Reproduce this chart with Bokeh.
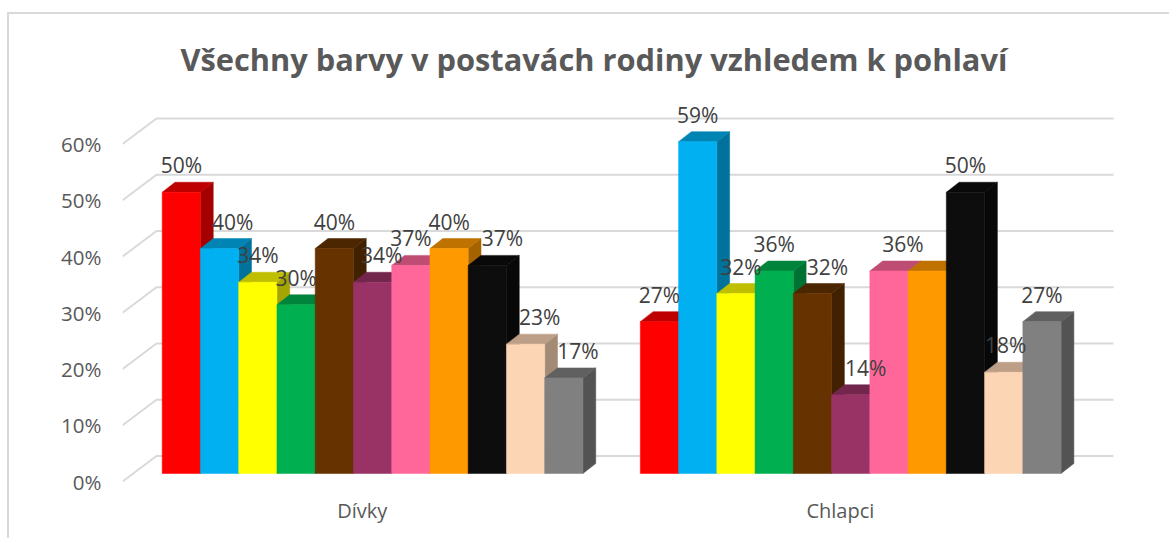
from bokeh.plotting import figure
from bokeh.models import ColumnDataSource, FixedTicker
from bokeh.embed import file_html
from bokeh.resources import INLINE
from bokeh.core.properties import value

# ---- data
groups = ["Dívky", "Chlapci"]
girls = [50, 40, 34, 30, 40, 34, 37, 40, 37, 23, 17]
boys = [27, 59, 32, 36, 32, 14, 36, 36, 50, 18, 27]
y_ticks = [0, 10, 20, 30, 40, 50, 60]
title_text = "Všechny barvy v postavách rodiny vzhledem k pohlaví"

# ---- styles
bar_colors = ["#ff0000", "#00b0f0", "#ffff00", "#00b050", "#663300", "#993366",
              "#ff6699", "#ff9900", "#0d0d0d", "#fcd5b5", "#808080"]
# sideways nudges of the data labels, in pixels (label collision moves in the source)
girls_nudge = [0, 13, 0, 0, 0, 9, 0, 0, 15, 14, 14]
boys_nudge = [0, 0, 5, 0, 15, 15, 14, 0, 0, 2, 0]
boys_hidden = [False] * 7 + [True] + [False] * 3  # the label lost behind the black bar

BAR_PX = 38.25          # px per bar
PCT_PX = 5.625          # px per percent
PAGE_X, PAGE_Y = 7, 12                                     # figure's top-left on the page
FIG_W, FIG_H = 1162, 526
FRAME_L, FRAME_R, FRAME_T, FRAME_B = 122, 1161, 90, 490    # page px
ORIGIN_X, ORIGIN_Y = 161.7, 481                            # page px of x=0, y=0 on the front plane
GROUP_GAP = 12.5
BAR_LIFT = 8 / PCT_PX   # bars stand behind the front plane
BAR_DX, BAR_DY = 12.8 / BAR_PX, 10 / PCT_PX
WALL_DX, WALL_DY = 34 / BAR_PX, 25.5 / PCT_PX
GRID_END = (1113 - ORIGIN_X) / BAR_PX
GRID = "#d9d9d9"


def shade(c, f):
    return "#%02x%02x%02x" % tuple(int(int(c[i:i + 2], 16) * f) for i in (1, 3, 5))


x_range = ((FRAME_L - ORIGIN_X) / BAR_PX, (FRAME_R - ORIGIN_X) / BAR_PX)
y_range = (-(FRAME_B - ORIGIN_Y) / PCT_PX, (ORIGIN_Y - FRAME_T) / PCT_PX)

p = figure(width=FIG_W, height=FIG_H, x_range=x_range, y_range=y_range,
           output_backend="svg", toolbar_location=None,
           margin=(PAGE_Y, 0, 0, PAGE_X),
           min_border_left=FRAME_L - PAGE_X, min_border_right=PAGE_X + FIG_W - FRAME_R,
           min_border_top=FRAME_T - PAGE_Y, min_border_bottom=PAGE_Y + FIG_H - FRAME_B)
p.outline_line_color = None
p.grid.visible = False
p.border_fill_color = None
p.background_fill_color = None
p.styles = {"box-shadow": f"inset 2px 2px 0 {GRID}"}

# title
p.title.text = title_text
p.title.align = "left"
p.title.offset = 58
p.title.text_font = "Open Sans"
p.title.text_font_style = "bold"
p.title.text_font_size = "30.8px"
p.title.text_color = "#595959"
p.title.standoff = 22

# axes
p.yaxis.ticker = FixedTicker(ticks=y_ticks)
p.yaxis.major_label_overrides = {t: f"{t}%" for t in y_ticks}
p.yaxis.axis_line_color = None
p.yaxis.major_tick_line_color = None
p.yaxis.minor_tick_line_color = None
p.yaxis.major_label_standoff = 15
p.yaxis.major_label_text_font = "Open Sans"
p.yaxis.major_label_text_font_size = "20.5px"
p.yaxis.major_label_text_color = "#595959"

centers = [5.23, 5.23 + GROUP_GAP]
p.xaxis.ticker = FixedTicker(ticks=centers)
p.xaxis.major_label_overrides = dict(zip(centers, groups))
p.xaxis.axis_line_color = None
p.xaxis.major_tick_line_color = None
p.xaxis.minor_tick_line_color = None
p.xaxis.major_label_standoff = 0
p.xaxis.major_label_text_font = "Open Sans"
p.xaxis.major_label_text_font_size = "20px"
p.xaxis.major_label_text_color = "#595959"

# 3-D gridlines: floor diagonal plus back wall
p.multi_line(xs=[[x_range[0], x_range[0] + WALL_DX, GRID_END] for _ in y_ticks],
             ys=[[t, t + WALL_DY, t + WALL_DY] for t in y_ticks],
             line_color=GRID, line_width=2)

# bars: side, top, front for each bar, left to right
xs, ys, cols = [], [], []
lx, ly, lt = [], [], []
for start, vals, nudges, hidden in ((0, girls, girls_nudge, [False] * 11),
                                    (GROUP_GAP, boys, boys_nudge, boys_hidden)):
    for i, v in enumerate(vals):
        x0, x1 = start + i, start + i + 1
        y0, y1 = BAR_LIFT, BAR_LIFT + v
        c = bar_colors[i]
        xs.append([x1, x1 + BAR_DX, x1 + BAR_DX, x1])
        ys.append([y0, y0 + BAR_DY, y1 + BAR_DY, y1])
        cols.append(shade(c, 0.65))
        xs.append([x0, x0 + BAR_DX, x1 + BAR_DX, x1])
        ys.append([y1, y1 + BAR_DY, y1 + BAR_DY, y1])
        cols.append(shade(c, 0.75))
        xs.append([x0, x1, x1, x0])
        ys.append([y0, y0, y1, y1])
        cols.append(c)
        if not hidden[i]:
            lx.append((x0 + x1) / 2 + nudges[i] / BAR_PX)
            ly.append(y1)
            lt.append(f"{v}%")

p.patches("xs", "ys", fill_color="c", line_color="c", line_width=0.5,
          source=ColumnDataSource(dict(xs=xs, ys=ys, c=cols)))

p.text("x", "y", text="t", source=ColumnDataSource(dict(x=lx, y=ly, t=lt)),
       text_align="center", text_baseline="middle", y_offset=-27,
       text_font=value("Open Sans"), text_font_size="21px", text_color="#404040")

open("out.html", "w").write(file_html(p, INLINE))
